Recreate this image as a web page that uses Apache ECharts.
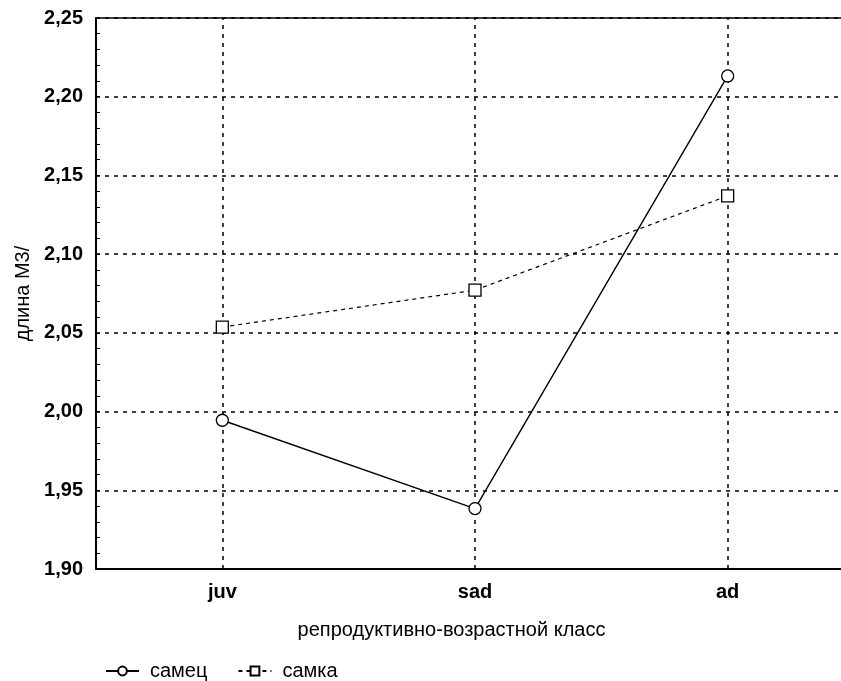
<!DOCTYPE html>
<html>
<head>
<meta charset="utf-8">
<script src="https://cdn.jsdelivr.net/npm/echarts@6/dist/echarts.min.js"></script>
<style>
  html, body { margin: 0; padding: 0; background: #fff; overflow: hidden; }
  /* the plot frame runs past the right edge of the page */
  #chart { width: 854px; height: 681px; }
</style>
</head>
<body>
<div id="chart"></div>
<script>
// Reproductive-age classes and mean M3 length per sex
const categories = ['juv', 'sad', 'ad'];
const maleValues = [1.9945, 1.9384, 2.2132];
const femaleValues = [2.0537, 2.0771, 2.137];
const maleName = 'самец';
const femaleName = 'самка';
const yMin = 1.90, yMax = 2.25, yStep = 0.05;

const FONT = '"Liberation Sans", Arial, sans-serif';
const chart = echarts.init(document.getElementById('chart'), null, { renderer: 'canvas' });

const fmt = v => v.toFixed(2).replace('.', ',');

chart.setOption({
  animation: false,
  textStyle: { fontFamily: FONT, color: '#000' },
  grid: {
    left: 96, top: 18, bottom: 112, right: 0,
    show: true, borderColor: '#000', borderWidth: 1.5, backgroundColor: 'transparent'
  },
  legend: {
    left: 100, top: 656,
    itemWidth: 33, itemHeight: 11, itemGap: 30,
    textStyle: { fontFamily: FONT, fontSize: 20, color: '#000', padding: [0, 0, 0, 6] },
    data: [maleName, femaleName]
  },
  xAxis: {
    type: 'category',
    data: categories,
    boundaryGap: true,
    name: 'репродуктивно-возрастной класс',
    nameLocation: 'middle',
    nameGap: 51,
    nameTextStyle: { fontFamily: FONT, fontSize: 20, color: '#000', align: 'center', padding: [0, 47, 0, 0] },
    axisLine: { lineStyle: { color: '#000', width: 2 } },
    axisTick: { show: false },
    axisLabel: { fontFamily: FONT, fontSize: 20, fontWeight: 'bold', color: '#000', margin: 13 },
    splitLine: { show: false }
  },
  yAxis: {
    type: 'value',
    min: yMin, max: yMax, interval: yStep,
    name: 'длина М3/',
    nameLocation: 'middle',
    nameGap: 63,
    nameTextStyle: { fontFamily: FONT, fontSize: 20, color: '#000' },
    axisLine: { show: true, lineStyle: { color: '#000', width: 2 } },
    axisTick: { show: true, inside: true, length: 4, lineStyle: { color: '#000', width: 1 } },
    minorTick: { show: true, splitNumber: 5, length: 4, lineStyle: { color: '#000', width: 1 } },
    axisLabel: {
      fontFamily: FONT, fontSize: 20, fontWeight: 'bold', color: '#000', margin: 13,
      formatter: fmt
    },
    splitLine: { show: true, lineStyle: { color: '#000', width: 1.5, type: [4, 5] } }
  },
  series: [
    {
      name: maleName,
      type: 'line',
      data: maleValues,
      symbol: 'circle',
      symbolSize: 12,
      z: 3,
      itemStyle: { color: '#fff', borderColor: '#000', borderWidth: 1.3 },
      lineStyle: { color: '#000', width: 1.4, type: 'solid' },
      markLine: {
        silent: true,
        symbol: ['none', 'none'],
        label: { show: false },
        lineStyle: { color: '#000', width: 1.5, type: [4, 5] },
        z: 1,
        data: categories.map(c => ({ xAxis: c }))
      }
    },
    {
      name: femaleName,
      type: 'line',
      data: femaleValues,
      symbol: 'rect',
      symbolSize: 12,
      z: 3,
      itemStyle: { color: '#fff', borderColor: '#000', borderWidth: 1.3 },
      lineStyle: { color: '#000', width: 1.2, type: [4, 4] }
    }
  ]
});
</script>
</body>
</html>
